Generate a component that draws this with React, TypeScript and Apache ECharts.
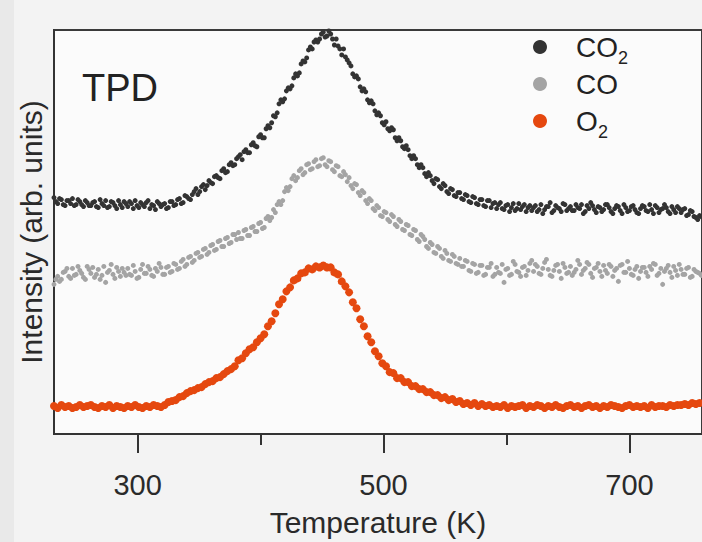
import React, { useEffect, useRef } from "react";
import * as echarts from "echarts";

// Temperature ramp: first reading and step (K); the second set of readings is offset by half a step
const T_START = 232;
const T_STEP = 3;

const seriesNames = ["CO2", "CO", "O2"];
const xMajorTicks = [300, 500, 700];
const xMinorTicks = [400, 600];

// Intensities (arb. units), one value per temperature step
const co2ValuesA = [
  237, 231, 235, 229, 234, 236, 230, 233, 228, 232,
  229, 233, 227, 231, 234, 228, 232, 226, 230, 233,
  228, 231, 234, 227, 230, 232, 226, 229, 233, 228,
  231, 227, 233, 230, 236, 232, 238, 235, 243, 240,
  248, 245, 254, 251, 259, 256, 266, 263, 272, 270,
  278, 275, 285, 282, 292, 288, 300, 297, 309, 312,
  318, 331, 333, 344, 346, 357, 359, 371, 373, 385,
  386, 395, 396, 403, 399, 401, 390, 389, 380, 378,
  372, 361, 359, 348, 346, 335, 334, 324, 322, 312,
  313, 304, 305, 294, 294, 286, 285, 276, 276, 267,
  267, 258, 259, 251, 255, 246, 249, 241, 245, 238,
  242, 235, 239, 232, 237, 230, 235, 228, 234, 231,
  226, 232, 225, 230, 227, 224, 231, 228, 223, 229,
  227, 223, 230, 225, 228, 222, 229, 226, 231, 224,
  228, 224, 227, 230, 223, 226, 229, 222, 227, 225,
  230, 223, 226, 228, 221, 227, 224, 229, 222, 226,
  228, 223, 225, 229, 222, 226, 227, 221, 225, 228,
  222, 226, 220, 223, 217, 219, 213,
];

const co2ValuesB = [
  233, 236, 230, 234, 231, 229, 235, 230, 234, 229,
  232, 228, 235, 229, 227, 233, 229, 234, 227, 231,
  233, 226, 229, 232, 228, 234, 230, 225, 231, 230,
  226, 233, 229, 235, 231, 239, 236, 240, 246, 243,
  250, 249, 252, 258, 257, 264, 262, 270, 269, 276,
  280, 283, 282, 290, 289, 298, 297, 306, 307, 319,
  322, 335, 336, 347, 349, 361, 362, 374, 377, 388,
  393, 393, 401, 398, 404, 396, 396, 386, 386, 375,
  369, 358, 356, 344, 343, 332, 331, 320, 319, 310,
  306, 307, 297, 297, 288, 289, 279, 279, 270, 270,
  261, 262, 254, 256, 248, 251, 243, 246, 239, 242,
  236, 240, 233, 238, 231, 235, 229, 234, 227, 232,
  230, 226, 229, 223, 231, 226, 225, 230, 227, 224,
  229, 225, 221, 228, 232, 224, 227, 223, 230, 226,
  224, 230, 226, 221, 229, 232, 225, 228, 223, 230,
  227, 221, 229, 224, 230, 223, 228, 225, 221, 229,
  224, 230, 221, 227, 225, 230, 223, 228, 222, 226,
  225, 219, 224, 218, 215, 218,
];

const coValuesA = [
  150, 158, 155, 163, 158, 166, 160, 164, 157, 168,
  161, 157, 165, 159, 152, 164, 160, 167, 158, 162,
  166, 159, 163, 157, 170, 161, 165, 158, 163, 167,
  160, 168, 163, 170, 166, 175, 170, 178, 174, 182,
  178, 186, 182, 190, 185, 194, 188, 197, 192, 200,
  202, 196, 205, 199, 208, 203, 212, 207, 218, 217,
  222, 233, 234, 247, 248, 259, 257, 266, 262, 271,
  266, 275, 269, 277, 268, 273, 263, 268, 258, 260,
  257, 246, 250, 239, 242, 231, 234, 224, 227, 218,
  222, 213, 218, 208, 213, 204, 209, 199, 204, 193,
  198, 188, 192, 182, 188, 178, 184, 174, 180, 171,
  176, 168, 173, 163, 170, 162, 169, 160, 167, 158,
  167, 161, 152, 166, 160, 170, 162, 167, 159, 171,
  163, 168, 160, 172, 165, 158, 169, 163, 171, 161,
  168, 162, 174, 160, 166, 170, 157, 167, 163, 169,
  161, 168, 164, 153, 170, 162, 166, 159, 168, 163,
  167, 158, 165, 170, 161, 150, 166, 162, 168, 159,
  165, 160, 167, 158, 163, 161, 164,
];

const coValuesB = [
  155, 153, 162, 166, 156, 159, 168, 161, 155, 165,
  167, 160, 155, 168, 162, 170, 156, 163, 166, 159,
  160, 169, 156, 165, 161, 168, 159, 166, 171, 160,
  167, 162, 171, 165, 173, 168, 177, 172, 181, 177,
  185, 180, 189, 184, 193, 188, 196, 191, 200, 195,
  196, 204, 199, 207, 203, 211, 206, 216, 214, 225,
  230, 230, 243, 244, 256, 254, 264, 260, 270, 265,
  273, 268, 276, 270, 274, 265, 269, 259, 263, 253,
  249, 251, 242, 244, 234, 236, 226, 229, 219, 223,
  215, 220, 210, 215, 205, 210, 200, 205, 195, 200,
  195, 186, 190, 181, 186, 176, 181, 173, 178, 170,
  168, 174, 164, 171, 161, 169, 159, 167, 171, 160,
  162, 170, 165, 159, 173, 163, 158, 168, 164, 174,
  170, 161, 166, 175, 159, 164, 170, 156, 167, 162,
  159, 165, 170, 164, 172, 161, 166, 171, 158, 164,
  170, 158, 166, 169, 162, 173, 160, 165, 156, 167,
  162, 168, 171, 159, 166, 163, 169, 157, 164, 170,
  160, 166, 157, 165, 162, 159,
];

const o2Values = [
  28, 26, 29, 27, 28, 26, 27, 29, 27, 28,
  29, 27, 26, 28, 27, 29, 26, 28, 27, 26,
  28, 27, 29, 27, 26, 28, 27, 29, 28, 27,
  29, 32, 33, 34, 37, 38, 41, 43, 44, 46,
  47, 50, 52, 53, 56, 57, 60, 63, 65, 68,
  74, 76, 81, 85, 87, 92, 96, 100, 108, 113,
  121, 130, 135, 143, 147, 154, 156, 161, 162, 166,
  165, 168, 167, 169, 167, 167, 162, 160, 153, 148,
  142, 132, 126, 115, 108, 98, 92, 83, 78, 71,
  68, 62, 61, 56, 56, 52, 52, 48, 48, 45,
  45, 42, 42, 39, 39, 36, 37, 34, 35, 32,
  33, 30, 31, 29, 31, 28, 30, 28, 29, 27,
  28, 27, 29, 26, 28, 27, 28, 29, 26, 28,
  27, 29, 28, 26, 28, 27, 29, 27, 26, 28,
  29, 27, 28, 26, 28, 29, 27, 28, 26, 28,
  27, 29, 28, 27, 26, 28, 29, 27, 28, 27,
  28, 26, 29, 27, 28, 28, 27, 29, 28, 29,
  29, 30, 29, 31, 30, 31, 32,
];

const toPoints = (vals: number[], start: number) => vals.map((v, i) => [start + i * T_STEP, v]);

const COLORS = ["#333333", "#a4a4a4", "#e5480f"];
const FONT = "Liberation Sans, Arial, sans-serif";

export default function App() {
  const ref = useRef<HTMLDivElement>(null);
  useEffect(() => {
    document.body.style.margin = "0";
    if (!ref.current) return;
    const chart = echarts.init(ref.current, null, { renderer: "svg" });
    const legendRows = [
      { main: "CO", sub: "2", subX: 618 },
      { main: "CO", sub: "", subX: 0 },
      { main: "O", sub: "2", subX: 598 },
    ];
    const legendGraphics: any[] = [];
    legendRows.forEach((r, i) => {
      const cy = 47 + i * 37;
      legendGraphics.push({
        type: "circle",
        shape: { cx: 540, cy, r: 7 },
        style: { fill: COLORS[i] },
      });
      legendGraphics.push({
        type: "text",
        x: 576,
        y: cy,
        style: { text: r.main, font: `28px ${FONT}`, fill: "#222", verticalAlign: "middle", align: "left" },
      });
      if (r.sub) {
        legendGraphics.push({
          type: "text",
          x: r.subX,
          y: cy + 11,
          style: { text: r.sub, font: `18px ${FONT}`, fill: "#222", verticalAlign: "middle", align: "left" },
        });
      }
    });

    const seriesData = [
      toPoints(co2ValuesA, T_START).concat(toPoints(co2ValuesB, T_START + T_STEP / 2)),
      toPoints(coValuesA, T_START).concat(toPoints(coValuesB, T_START + T_STEP / 2)),
      toPoints(o2Values, T_START),
    ];
    const sizes = [5, 5, 8];
    chart.setOption({
      animation: false,
      backgroundColor: "#f3f3f3",
      textStyle: { fontFamily: FONT },
      grid: {
        left: 54,
        right: 0,
        top: 30,
        bottom: 107,
        show: true,
        backgroundColor: "#fbfbfb",
        borderColor: "#3a3a3a",
        borderWidth: 2,
      },
      xAxis: [
        {
          type: "value",
          min: 232,
          max: 759,
          position: "bottom",
          axisLine: { show: true, onZero: false, lineStyle: { color: "#333", width: 2 } },
          axisTick: { show: true, customValues: xMajorTicks, length: 19, lineStyle: { color: "#333", width: 2 } },
          axisLabel: { show: true, customValues: xMajorTicks, fontSize: 29, color: "#2a2a2a", margin: 36, fontFamily: FONT },
          splitLine: { show: false },
          name: "Temperature (K)",
          nameLocation: "middle",
          nameGap: 73,
          nameTextStyle: { fontSize: 30, color: "#2a2a2a", fontFamily: FONT },
        },
        {
          type: "value",
          min: 232,
          max: 759,
          position: "bottom",
          axisLine: { show: false },
          axisTick: { show: true, customValues: xMinorTicks, length: 11, lineStyle: { color: "#333", width: 2 } },
          axisLabel: { show: false },
          splitLine: { show: false },
        },
      ],
      yAxis: {
        type: "value",
        min: 0,
        max: 405,
        axisLine: { show: true, onZero: false, lineStyle: { color: "#333", width: 2 } },
        axisTick: { show: false },
        axisLabel: { show: false },
        splitLine: { show: false },
        name: "Intensity (arb. units)",
        nameLocation: "middle",
        nameRotate: 90,
        nameGap: 8,
        nameTextStyle: { fontSize: 30, color: "#2a2a2a", fontFamily: FONT },
      },
      series: seriesNames.map((name, i) => ({
        name,
        type: "scatter",
        xAxisIndex: 0,
        data: seriesData[i],
        symbol: "circle",
        symbolSize: sizes[i],
        itemStyle: { color: COLORS[i], opacity: 1 },
        silent: true,
        clip: true,
      })),
      graphic: [
        {
          type: "rect",
          shape: { x: 0, y: 0, width: 14, height: 542 },
          style: { fill: "#e9e9e9" },
          z: -1,
        },
        {
          type: "text",
          x: 82,
          y: 88,
          style: { text: "TPD", font: `38px ${FONT}`, fill: "#222", verticalAlign: "middle", align: "left" },
        },
        ...legendGraphics,
      ],
    });
    return () => chart.dispose();
  }, []);
  return <div ref={ref} style={{ width: 702, height: 542 }} />;
}
